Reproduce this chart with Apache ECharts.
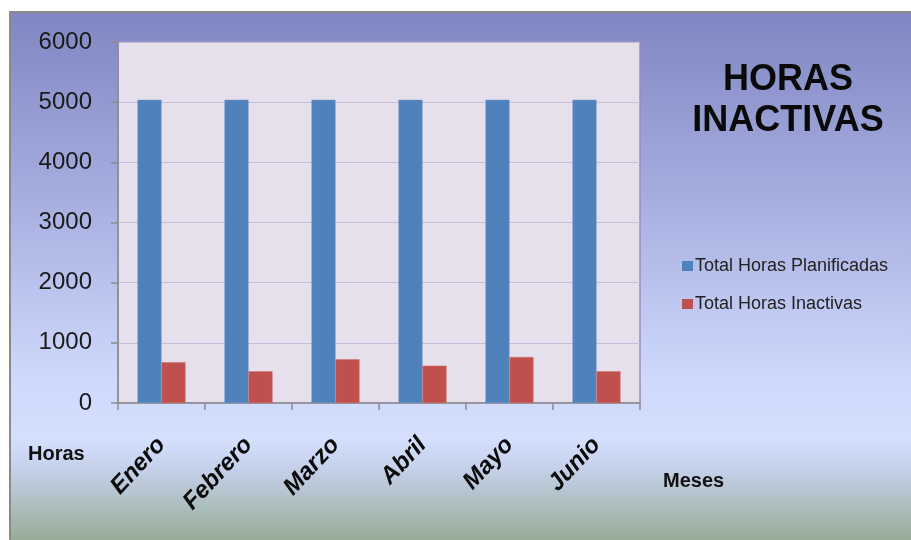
<!DOCTYPE html>
<html>
<head>
<meta charset="utf-8">
<script src="https://cdn.jsdelivr.net/npm/echarts@6/dist/echarts.min.js"></script>
<style>
  html, body { margin: 0; padding: 0; background: #ffffff; }
  #chart { width: 911px; height: 540px; }
</style>
</head>
<body>
<div id="chart"></div>
<script>
// Monthly planned vs. inactive hours
const months = ['Enero', 'Febrero', 'Marzo', 'Abril', 'Mayo', 'Junio'];
const plannedHours = [5040, 5040, 5040, 5040, 5040, 5040];
const inactiveHours = [676, 527, 726, 620, 764, 527];
const seriesNames = ['Total Horas Planificadas', 'Total Horas Inactivas'];
const yTicks = [0, 1000, 2000, 3000, 4000, 5000, 6000];

const chart = echarts.init(document.getElementById('chart'), null, { renderer: 'canvas' });

const font = 'Arial, "Liberation Sans", sans-serif';

chart.setOption({
  backgroundColor: '#ffffff',
  animation: false,
  textStyle: { fontFamily: font },
  graphic: [
    {
      type: 'rect',
      z: -100,
      silent: true,
      shape: { x: 10, y: 12, width: 905, height: 532 },
      style: {
        fill: {
          type: 'linear', x: 0, y: 0, x2: 0, y2: 1,
          colorStops: [
            { offset: 0, color: '#7f86c2' },
            { offset: 0.35, color: '#a6aedf' },
            { offset: 0.68, color: '#cdd8fb' },
            { offset: 0.80, color: '#d5e0ff' },
            { offset: 0.86, color: '#c4d0e8' },
            { offset: 1, color: '#94aa92' }
          ]
        },
        stroke: '#8a8a8a',
        lineWidth: 2
      }
    },
    {
      type: 'text',
      left: 28, top: 444,
      style: { text: 'Horas', font: 'bold 20px ' + font, fill: '#111111' }
    },
    {
      type: 'text',
      left: 663, top: 471,
      style: { text: 'Meses', font: 'bold 20px ' + font, fill: '#111111' }
    }
  ],
  title: {
    text: 'HORAS\nINACTIVAS',
    left: 783,
    top: 55,
    textAlign: 'center',
    textStyle: {
      fontFamily: font,
      fontSize: 36,
      fontWeight: 'bold',
      color: '#0a0a0a',
      lineHeight: 41
    }
  },
  legend: {
    data: seriesNames,
    orient: 'vertical',
    left: 677,
    top: 252,
    icon: 'rect',
    itemWidth: 11,
    itemHeight: 10,
    itemGap: 20,
    itemStyle: { borderWidth: 0 },
    textStyle: { fontSize: 18, color: '#222222', fontFamily: font, padding: [0, 0, 0, -3] }
  },
  grid: {
    left: 118, top: 42, width: 522, height: 361,
    show: true,
    backgroundColor: '#e6e0ec',
    borderColor: '#9a8cc4',
    borderWidth: 1.5
  },
  xAxis: {
    type: 'category',
    data: months,
    axisLine: { show: true, lineStyle: { color: '#8c8c8c', width: 1.5 } },
    axisTick: { show: true, length: 7, lineStyle: { color: '#8c8c8c', width: 1.5 } },
    axisLabel: {
      rotate: 47,
      margin: 38,
      fontSize: 24,
      fontWeight: 'bold',
      fontStyle: 'italic',
      color: '#0a0a0a',
      fontFamily: font
    }
  },
  yAxis: {
    type: 'value',
    min: yTicks[0],
    max: yTicks[yTicks.length - 1],
    interval: yTicks[1] - yTicks[0],
    axisLine: { show: true, lineStyle: { color: '#8c8c8c', width: 1.5 } },
    axisTick: { show: true, length: 7, lineStyle: { color: '#8c8c8c', width: 1.5 } },
    axisLabel: {
      fontSize: 24, color: '#1a1a1a', margin: 26, fontFamily: font,
      formatter: (v) => String(v)
    },
    splitLine: { show: true, lineStyle: { color: '#c7bdd8', width: 1 } }
  },
  series: [
    {
      name: seriesNames[0],
      type: 'bar',
      data: plannedHours,
      barWidth: 24,
      barGap: '0%',
      itemStyle: { color: '#4f81bd', borderColor: '#6a95c8', borderWidth: 0.5 }
    },
    {
      name: seriesNames[1],
      type: 'bar',
      data: inactiveHours,
      barWidth: 24,
      barGap: '0%',
      itemStyle: { color: '#c0504d', borderColor: '#d06a66', borderWidth: 0.5 }
    }
  ]
});
</script>
</body>
</html>
